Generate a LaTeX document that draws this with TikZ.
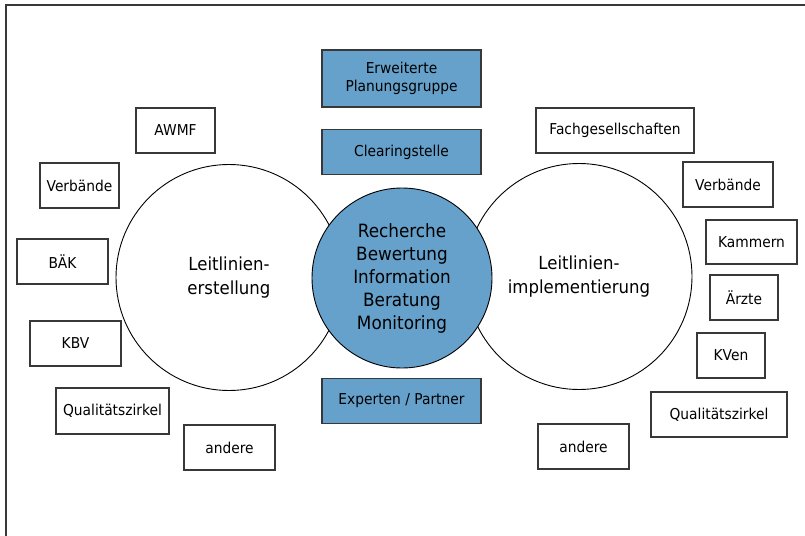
\documentclass[tikz,border=0pt]{standalone}
\usepackage{fontspec}
\setmainfont{DejaVu Sans}[FakeStretch=0.92]
\usepackage{xcolor}
\usepackage{tikz}
\usetikzlibrary{positioning,calc}
\definecolor{boxblue}{HTML}{65A1CB}
\definecolor{rimgray}{HTML}{383838}
\tikzset{
	smallbox/.style={draw=rimgray, line width=1.2pt, fill=white, rectangle, inner sep=0pt,
		font=\fontsize{15}{18}\selectfont, align=center},
	bluebox/.style={smallbox, fill=boxblue},
	ring/.style={draw=black, line width=0.9pt, fill=white, circle, inner sep=0pt,
		font=\fontsize{18}{24}\selectfont, align=center},
}

\begin{document}
\begin{tikzpicture}[x=1pt, y=-1pt]
	\clip (0,0) rectangle (805,535);
	\fill[white] (0,0) rectangle (805,535);
	% outer frame
	\draw[rimgray, line width=1.8pt] (6,5) rectangle (830,560);
	% the two working fields
	\node[ring, minimum size=226pt] (erst) at (229,277.5) {Leitlinien-\\erstellung};
	\node[ring, minimum size=226pt] (impl) at (579,276.5) {Leitlinien-\\implementierung};
	% core tasks in the middle
	\node[ring, fill=boxblue, minimum size=180pt, font=\fontsize{18.3}{23}\selectfont] (core) at (402,278)
		{Recherche\\Bewertung\\Information\\Beratung\\Monitoring};
	% blue boxes above and below
	\node[bluebox, minimum width=159pt, minimum height=57pt] (plan) at (401.5,78.5) {Erweiterte\\Planungsgruppe};
	\node[bluebox, minimum width=159pt, minimum height=45pt] (clear) at (401.5,152) {Clearingstelle};
	\node[bluebox, minimum width=159pt, minimum height=45pt] (exp) at (401.5,401) {Experten / Partner};
	% partners on the left
	\node[smallbox, minimum width=79pt, minimum height=45pt] (awmf) at (175.5,130.5) {AWMF};
	\node[smallbox, minimum width=79pt, minimum height=45pt] (verbL) at (79.5,185.5) {Verbände};
	\node[smallbox, minimum width=91pt, minimum height=45pt] (baek) at (62.5,261.5) {BÄK};
	\node[smallbox, minimum width=91pt, minimum height=45pt] (kbv) at (75.5,343.5) {KBV};
	\node[smallbox, minimum width=113pt, minimum height=46pt] (qzL) at (112.5,411) {Qualitätszirkel};
	\node[smallbox, minimum width=91pt, minimum height=45pt] (andL) at (229.5,447.5) {andere};
	% partners on the right
	\node[smallbox, minimum width=158pt, minimum height=45pt] (fach) at (615,130.5) {Fachgesellschaften};
	\node[smallbox, minimum width=90pt, minimum height=45pt] (verbR) at (728,184.5) {Verbände};
	\node[smallbox, minimum width=91pt, minimum height=44pt] (kam) at (751.5,242) {Kammern};
	\node[smallbox, minimum width=68pt, minimum height=45pt] (aerzte) at (744,297.5) {Ärzte};
	\node[smallbox, minimum width=68pt, minimum height=45pt] (kven) at (731,355.5) {KVen};
	\node[smallbox, minimum width=136pt, minimum height=45pt] (qzR) at (719,414.5) {Qualitätszirkel};
	\node[smallbox, minimum width=91pt, minimum height=45pt] (andR) at (583.5,446.5) {andere};
\end{tikzpicture}
\end{document}
